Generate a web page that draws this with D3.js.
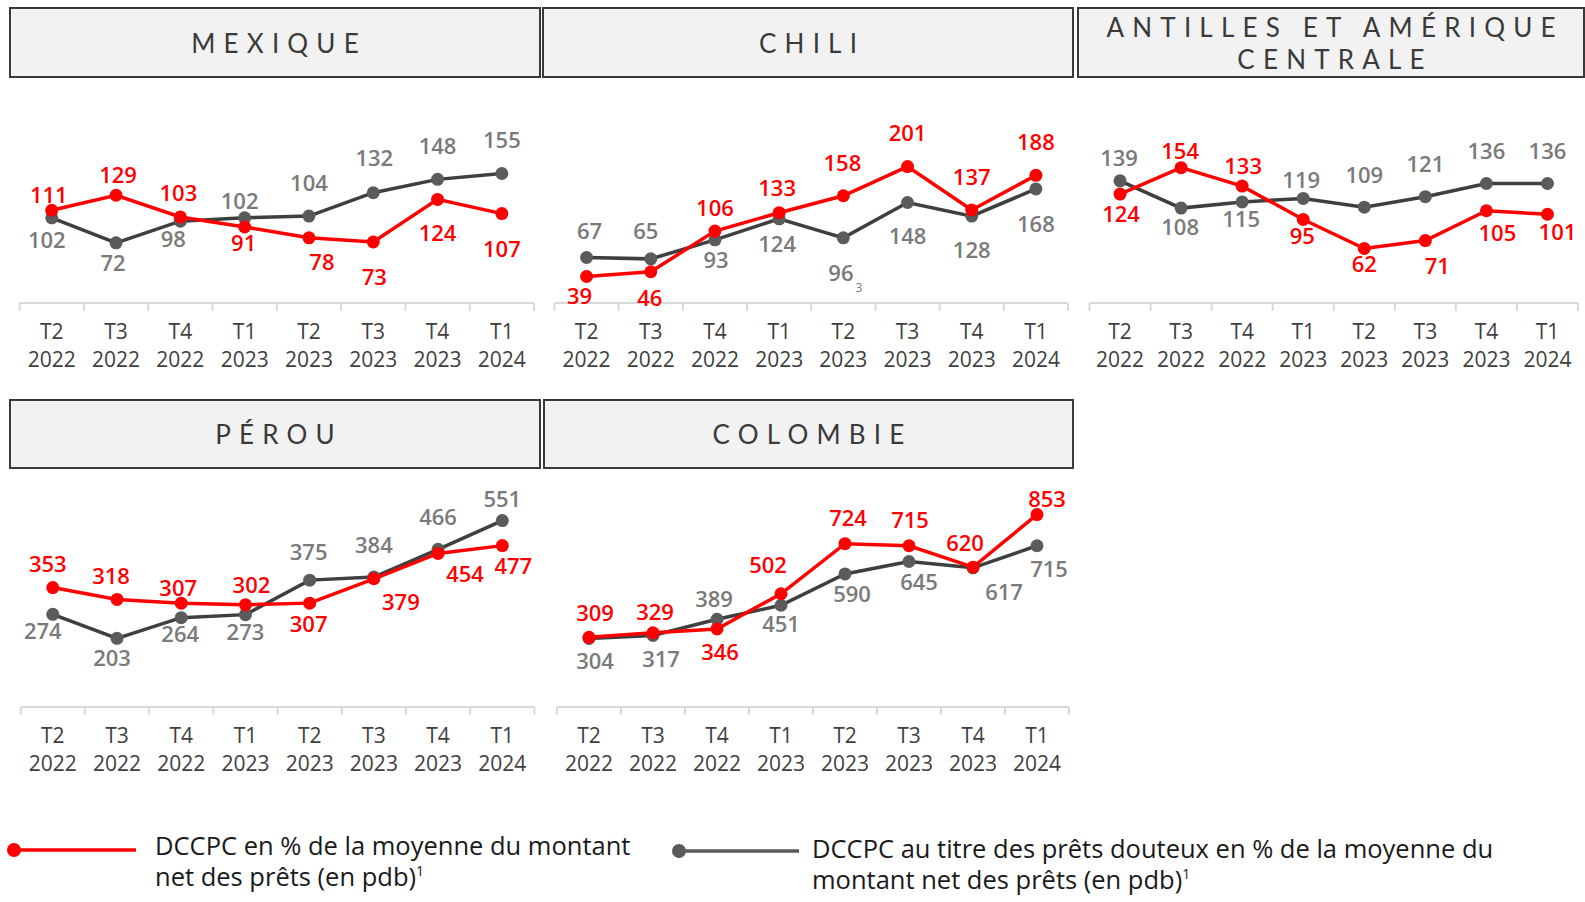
<!DOCTYPE html>
<html><head><meta charset="utf-8">
<script src="https://cdn.jsdelivr.net/npm/d3@7"></script>
<style>
html,body{margin:0;padding:0;background:#fff;}
svg{display:block;font-family:"Open Sans",sans-serif;}
</style></head>
<body>
<svg id="c" width="1585" height="902"></svg>
<script>
// ---- data ----
const quarters = ["T2","T3","T4","T1","T2","T3","T4","T1"];
const years = ["2022","2022","2022","2023","2023","2023","2023","2024"];
const categories = quarters.map((q,i)=>q+" "+years[i]);

const mexiqueRed  = [111,129,103,91,78,73,124,107];
const mexiqueGray = [102,72,98,102,104,132,148,155];
const chiliRed    = [39,46,106,133,158,201,137,188];
const chiliGray   = [67,65,93,124,96,148,128,168];
const antillesRed = [124,154,133,95,62,71,105,101];
const antillesGray= [139,108,115,119,109,121,136,136];
const perouRed    = [353,318,307,302,307,379,454,477];
const perouGray   = [274,203,264,273,375,384,466,551];
const colombieRed = [309,329,346,502,724,715,620,853];
const colombieGray= [304,317,389,451,590,645,617,715];

const legendRed = ["DCCPC en % de la moyenne du montant","net des prêts (en pdb)"];
const legendGray = ["DCCPC au titre des prêts douteux en % de la moyenne du","montant net des prêts (en pdb)"];

// ---- label placement (dx, dy relative to point) ----
const mexRedOff  = [[-3,-15],[2,-20],[-2,-24],[-1,16],[13,24],[1,35],[0,34],[0,35]];
const mexGrayOff = [[-5,22],[-3,20],[-7,18],[-5,-17],[0,-33],[1,-35],[0,-33],[0,-33]];
const chiRedOff  = [[-7,20],[-1,26],[0,-23],[-2,-25],[-1,-33],[0,-33],[0,-33],[0,-33]];
const chiGrayOff = [[3,-26],[-5,-28],[1,20],[-2,25],[-2,35],[0,34],[0,34],[0,35]];
const antRedOff  = [[1,20],[-1,-17],[1,-20],[-1,17],[0,16],[12,25],[11,22],[10,18]];
const antGrayOff = [[-1,-23],[-1,19],[-1,17],[-2,-18],[0,-32],[0,-33],[0,-32],[0,-32]];
const perRedOff  = [[-5,-23],[-6,-23],[-3,-15],[6,-20],[-1,21],[27,23],[27,21],[11,20]];
const perGrayOff = [[-10,17],[-5,20],[-1,16],[0,17],[-1,-28],[0,-32],[0,-32],[0,-21]];
const colRedOff  = [[6,-24],[2,-21],[3,23],[-13,-29],[3,-26],[1,-26],[-8,-24],[10,-16]];
const colGrayOff = [[6,23],[8,24],[-3,-20],[0,19],[7,20],[10,21],[31,24],[12,23]];

const panels = [
  {title:["MEXIQUE"], red:mexiqueRed, gray:mexiqueGray, ro:mexRedOff, go:mexGrayOff,
   box:[10,540,8,77], axis:[19.6,534], axisY:303, yMax:243},
  {title:["CHILI"], red:chiliRed, gray:chiliGray, ro:chiRedOff, go:chiGrayOff,
   box:[543,1073,8,77], axis:[554.5,1068], axisY:303, yMax:299, sub:{i:4,t:"3"}},
  {title:["ANTILLES ET AMÉRIQUE","CENTRALE"], red:antillesRed, gray:antillesGray, ro:antRedOff, go:antGrayOff,
   box:[1078,1584,8,77], axis:[1089.5,1578], axisY:303, yMax:231},
  {title:["PÉROU"], red:perouRed, gray:perouGray, ro:perRedOff, go:perGrayOff,
   box:[10,540,400,468], axis:[20.7,534.4], axisY:707, yMax:600},
  {title:["COLOMBIE"], red:colombieRed, gray:colombieGray, ro:colRedOff, go:colGrayOff,
   box:[544,1073,400,468], axis:[557,1069], axisY:707, yMax:900}
];

const RED="#ff0000", GRAYLINE="#3f3f3f", GRAYDOT="#5b5b5b", GRAYTXT="#7a7a7a", TXT="#404040";
const svg = d3.select("#c");
const PH = 203;

panels.forEach(p=>{
  const g = svg.append("g");
  const [bx0,bx1,by0,by1] = p.box;
  g.append("rect").attr("x",bx0).attr("y",by0).attr("width",bx1-bx0).attr("height",by1-by0)
    .attr("fill","#f2f2f2").attr("stroke","#3a3a3a").attr("stroke-width",2);
  const ls = 8.2;
  const cx = (bx0+bx1)/2 + ls/2;
  const cy = (by0+by1)/2 + 1;
  const n = p.title.length;
  const lh = 32;
  p.title.forEach((t,i)=>{
    g.append("text").attr("x",cx).attr("y",cy + (i-(n-1)/2)*lh).attr("dy","0.36em")
      .attr("text-anchor","middle").attr("font-size",26).attr("letter-spacing",ls+"px")
      .attr("font-family","Lato, sans-serif").attr("font-weight",400)
      .attr("fill","#3a3a3a").text(t);
  });

  const x = d3.scaleBand().domain(categories).range(p.axis);
  const y = d3.scaleLinear().domain([0,p.yMax]).range([p.axisY, p.axisY-PH]);

  // axis line + boundary ticks
  g.append("line").attr("x1",p.axis[0]).attr("x2",p.axis[1]).attr("y1",p.axisY).attr("y2",p.axisY)
    .attr("stroke","#d9d9d9").attr("stroke-width",2);
  const bounds = d3.range(categories.length+1).map(i=>p.axis[0]+i*x.step());
  g.selectAll(".tk").data(bounds).enter().append("line")
    .attr("x1",d=>d).attr("x2",d=>d).attr("y1",p.axisY).attr("y2",p.axisY+8)
    .attr("stroke","#d9d9d9").attr("stroke-width",2);

  // category labels
  const ax = d3.axisBottom(x).tickSize(0).tickFormat(()=>"");
  const axg = g.append("g").attr("transform",`translate(0,${p.axisY})`).call(ax);
  axg.select(".domain").remove();
  axg.selectAll(".tick").each(function(d,i){
    const t = d3.select(this).append("text").attr("fill",TXT).attr("font-size",21)
      .attr("font-family","'Open Sans',sans-serif").attr("text-anchor","middle");
    t.append("tspan").attr("x",0).attr("y",36).text(quarters[i]);
    t.append("tspan").attr("x",0).attr("y",64).text(years[i]);
  });

  const px = i=>x(categories[i])+x.bandwidth()/2;
  const line = d3.line().x((d,i)=>px(i)).y(d=>y(d));

  // gray series
  g.append("path").datum(p.gray).attr("d",line).attr("fill","none").attr("stroke",GRAYLINE).attr("stroke-width",3.5);
  g.selectAll(".gd").data(p.gray).enter().append("circle")
    .attr("cx",(d,i)=>px(i)).attr("cy",d=>y(d)).attr("r",6.5).attr("fill",GRAYDOT);
  // red series
  g.append("path").datum(p.red).attr("d",line).attr("fill","none").attr("stroke",RED).attr("stroke-width",3.5);
  g.selectAll(".rd").data(p.red).enter().append("circle")
    .attr("cx",(d,i)=>px(i)).attr("cy",d=>y(d)).attr("r",6.5).attr("fill",RED);

  // labels
  const lab = (data,off,col)=>{
    data.forEach((d,i)=>{
      const t = g.append("text").attr("x",px(i)+off[i][0]).attr("y",y(d)+off[i][1]).attr("dy","0.36em")
        .attr("text-anchor","middle").attr("font-size",22).attr("font-weight",600).attr("fill",col).text(d);
      if(col===GRAYTXT && p.sub && p.sub.i===i){
        t.attr("text-anchor","start").attr("x",px(i)+off[i][0]-13);
        t.append("tspan").attr("font-size",12).attr("font-weight",400).attr("dx",2).attr("dy","0.9em").text(p.sub.t);
      }
    });
  };
  lab(p.gray,p.go,GRAYTXT);
  lab(p.red,p.ro,RED);
});

// legend
const lg = svg.append("g");
lg.append("line").attr("x1",14).attr("x2",136).attr("y1",850).attr("y2",850).attr("stroke",RED).attr("stroke-width",3.5);
lg.append("circle").attr("cx",14).attr("cy",850).attr("r",7).attr("fill",RED);
lg.append("line").attr("x1",679).attr("x2",799).attr("y1",851).attr("y2",851).attr("stroke","#5b5b5b").attr("stroke-width",3.5);
lg.append("circle").attr("cx",679).attr("cy",851).attr("r",7).attr("fill","#5b5b5b");
const legText = (lines,x0,y0)=>{
  lines.forEach((s,i)=>{
    const t = lg.append("text").attr("x",x0).attr("y",y0+i*31).attr("dy","0.36em")
      .attr("font-size",25.5).attr("fill","#1a1a1a").text(s);
    if(i===lines.length-1) t.append("tspan").attr("font-size",14).attr("dy","-0.7em").text("1");
  });
};
legText(legendRed,155,846);
legText(legendGray,812,849);
</script>
</body></html>
